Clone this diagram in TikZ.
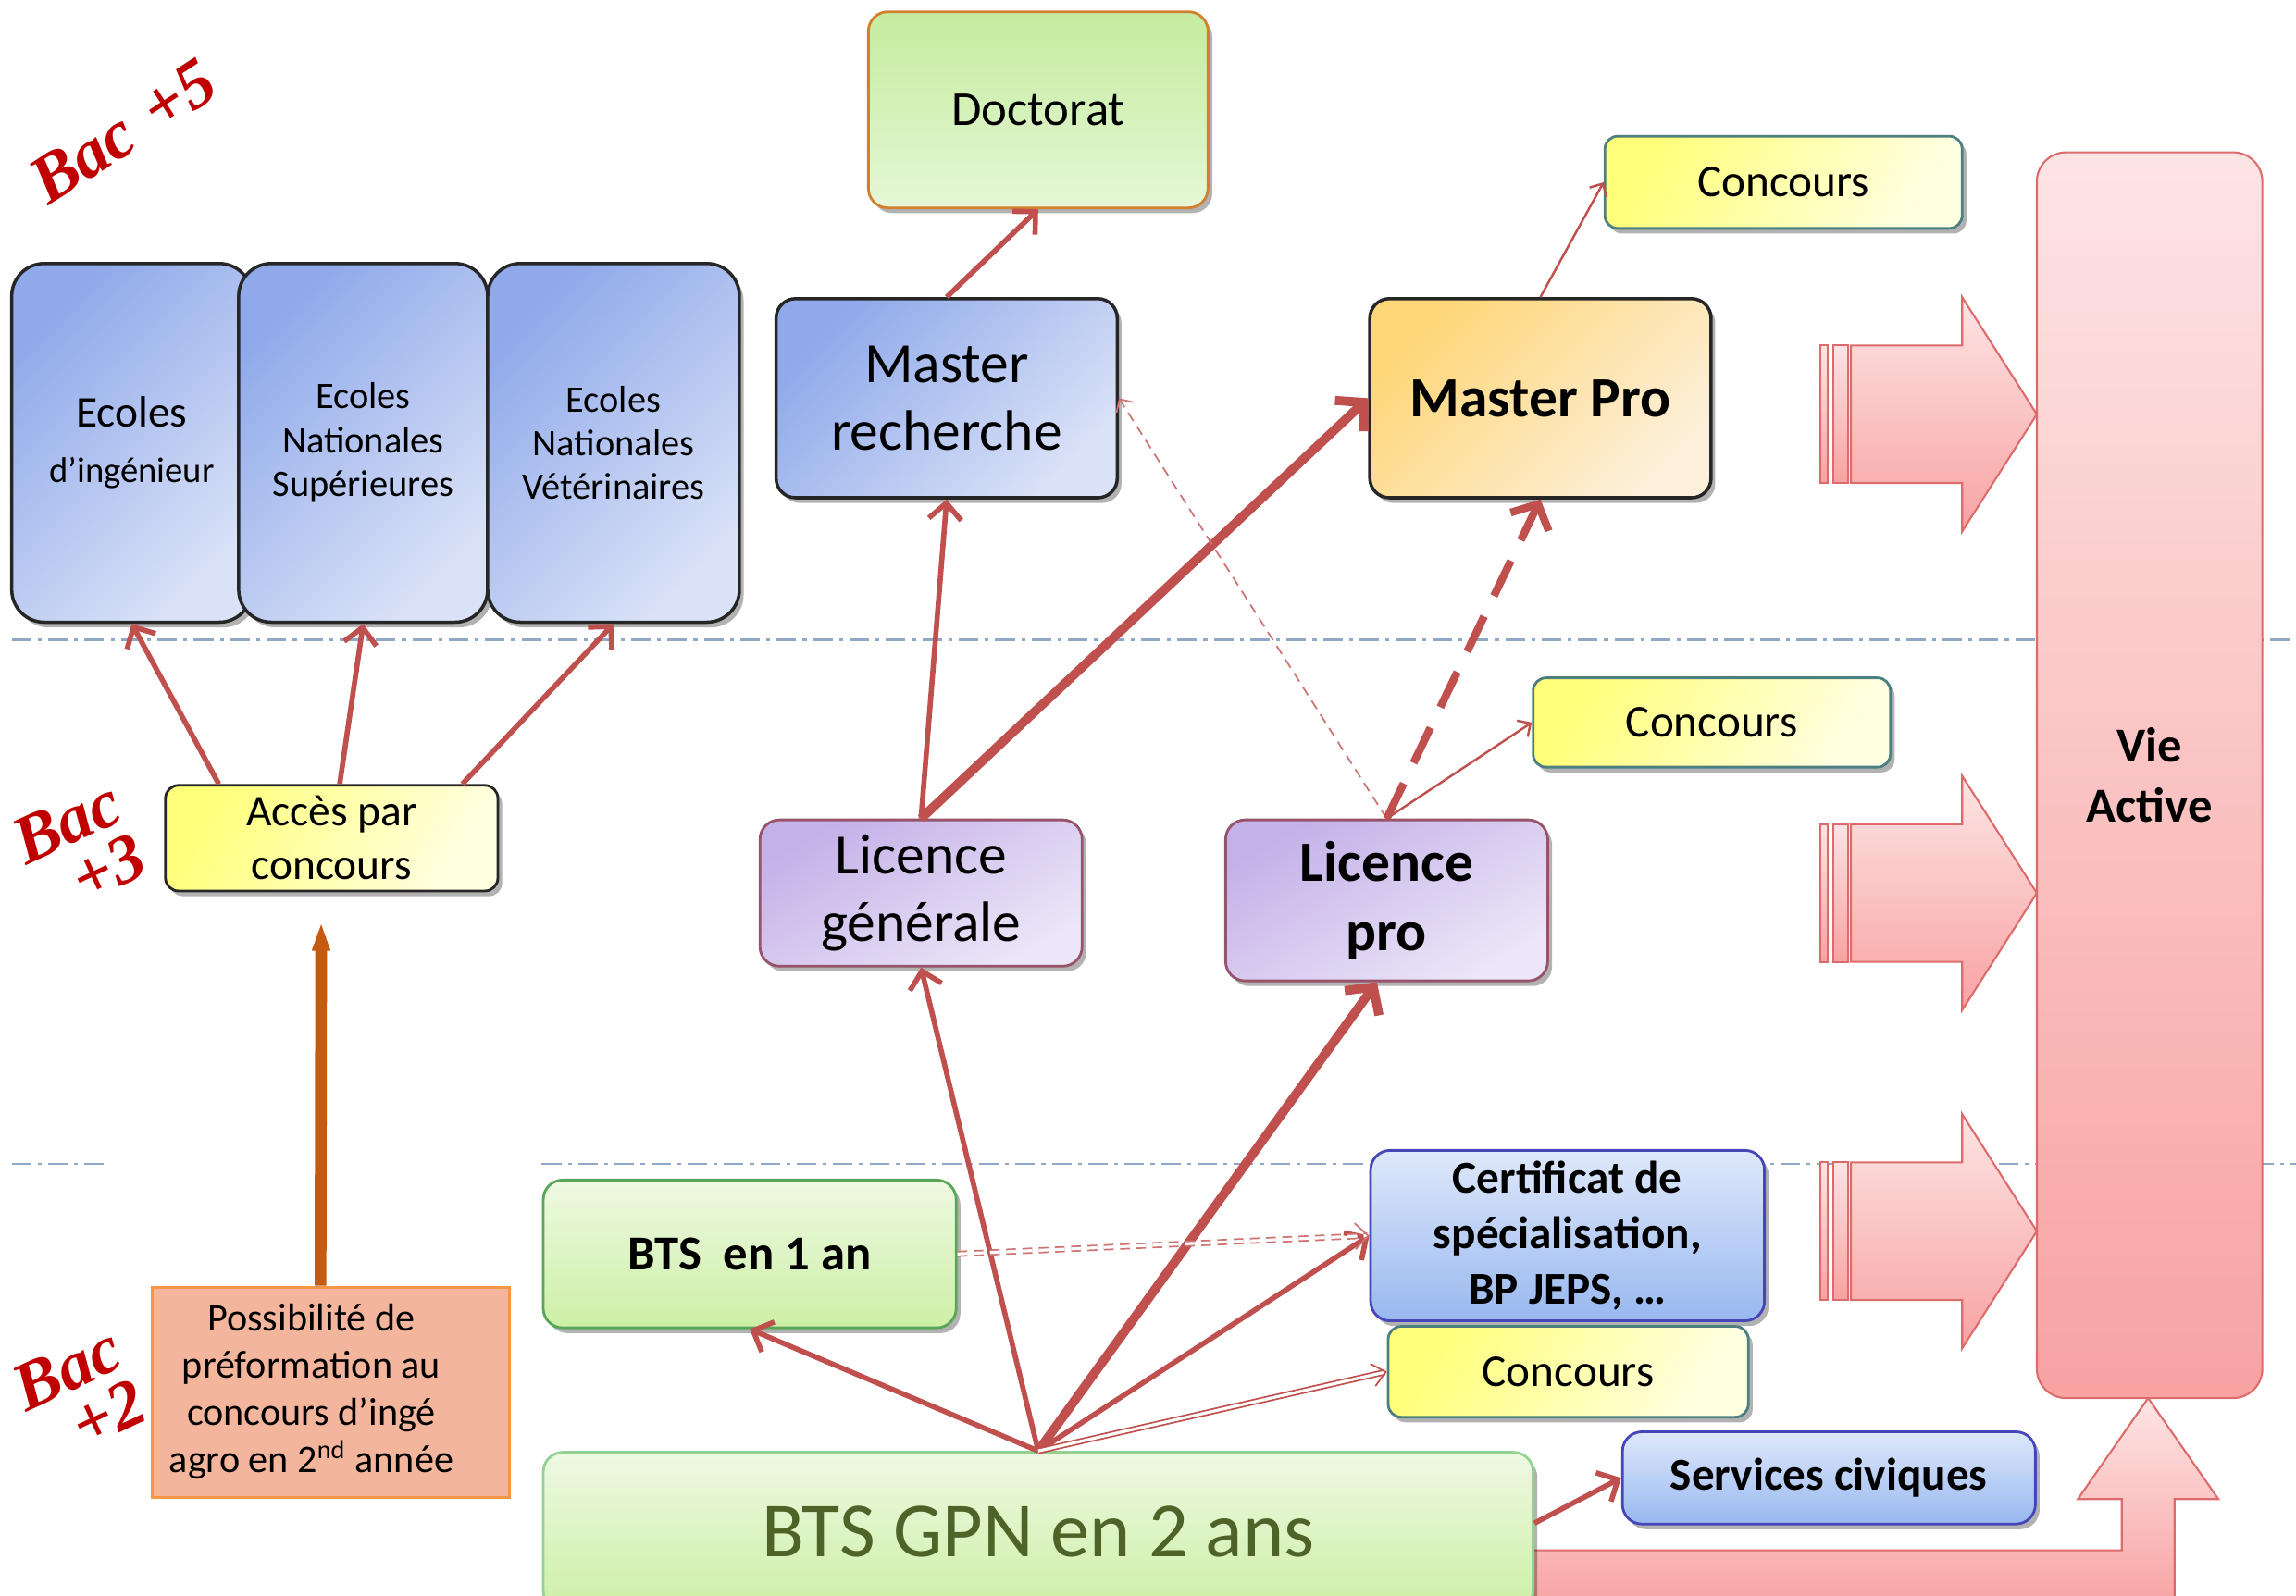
\documentclass[tikz,border=0pt]{standalone}
\usepackage{fontspec}
\setmainfont{Carlito}
\newfontfamily\bacfont{Liberation Serif}
\usepackage{xcolor}
\usepackage{tikz}
\usetikzlibrary{arrows.meta, shadows, calc}

\definecolor{arrred}{HTML}{C0504D}
\definecolor{bacred}{HTML}{C00000}
\definecolor{sepblue}{HTML}{8FA8C8}
\definecolor{bluetl}{HTML}{8FA9EA}
\definecolor{bluebr}{HTML}{DAE2F7}
\definecolor{greentop}{HTML}{C4EC9E}
\definecolor{greenbot}{HTML}{E6F7D6}
\definecolor{btstop}{HTML}{EEF9E2}
\definecolor{btsbot}{HTML}{CDEFA6}
\definecolor{purptl}{HTML}{C4B1E8}
\definecolor{purpbr}{HTML}{ECE6F8}
\definecolor{yelltl}{HTML}{FFFF7A}
\definecolor{yellbr}{HTML}{FFFFE2}
\definecolor{orantl}{HTML}{FFD678}
\definecolor{oranbr}{HTML}{FCF0DA}
\definecolor{certtop}{HTML}{DFE8FB}
\definecolor{certbot}{HTML}{98B8F0}
\definecolor{pinktop}{HTML}{FDE4E4}
\definecolor{pinkbot}{HTML}{F8A2A2}
\definecolor{pinkline}{HTML}{DE6B6B}
\definecolor{possfill}{HTML}{F4B59D}
\definecolor{possline}{HTML}{F79646}
\definecolor{orarrow}{HTML}{C55A11}
\definecolor{btstext}{HTML}{4F6228}

\begin{document}
\begin{tikzpicture}[x=0.015823cm, y=-0.015823cm,
    shadowed/.style={drop shadow={shadow xshift=1.3pt, shadow yshift=-1.6pt, opacity=0.3, fill=black}},
    ecole/.style={rectangle, rounded corners=10pt, draw=black!85, line width=1pt, top color=bluetl, bottom color=bluebr, shading angle=45, minimum width=#1, minimum height=3.877cm, align=center, shadowed},
    greenbox/.style={rectangle, rounded corners=6pt, draw=#1, line width=0.8pt, top color=greentop, bottom color=greenbot, align=center, shadowed},
    btsbox/.style={rectangle, rounded corners=6pt, draw=#1, line width=0.8pt, top color=btstop, bottom color=btsbot, align=center, shadowed},
    bluebox/.style={rectangle, rounded corners=6pt, draw=black!85, line width=1pt, top color=bluetl, bottom color=bluebr, shading angle=45, align=center, shadowed},
    purplebox/.style={rectangle, rounded corners=6pt, draw=purple!35!gray, line width=0.8pt, top color=purptl, bottom color=purpbr, shading angle=30, align=center, shadowed},
    yellowbox/.style={rectangle, rounded corners=4pt, draw=#1, line width=0.8pt, top color=yelltl, bottom color=yellbr, shading angle=60, align=center, shadowed},
    certbox/.style={rectangle, rounded corners=6pt, draw=blue!45!gray, line width=0.8pt, top color=certtop, bottom color=certbot, align=center, shadowed},
    bac/.style={font=\bacfont\fontsize{21}{18}\selectfont\bfseries\itshape, text=bacred, align=right, inner sep=1pt},
    sep/.style={draw=sepblue, line width=0.8pt, dash pattern=on 6pt off 2pt on 1.2pt off 2pt},
    arr/.style={draw=arrred, line width=1.6pt, -{Straight Barb[length=5pt,width=10pt]}},
    thickarr/.style={draw=arrred, line width=2.8pt, -{Straight Barb[length=6pt,width=13pt]}},
    thinarr/.style={draw=arrred, line width=0.7pt, -{Straight Barb[length=3pt,width=6pt]}},
    dotarr/.style={draw=arrred!80, line width=0.5pt, densely dashed, -{Straight Barb[length=3pt,width=6pt]}},
    dasharr/.style={draw=arrred, line width=2.4pt, dash pattern=on 12pt off 7pt, -{Straight Barb[length=6pt,width=13pt]}},
    dblarr/.style={draw=arrred, line width=0.5pt, double=white, double distance=0.9pt, -{Straight Barb[length=4pt,width=7pt]}},
    dbldash/.style={draw=arrred!80, line width=0.5pt, double=white, double distance=0.9pt, densely dashed, -{Straight Barb[length=4pt,width=8pt]}},
    orarr/.style={draw=orarrow, line width=3.6pt, shorten >=9pt, -{Triangle[length=9pt,width=5pt]}},
]
\useasboundingbox (0,0) rectangle (1568,1090);

% Level separators
\draw[sep] (8,437) -- (1568,437);
\draw[sep] (8,795) -- (75,795);
\draw[sep] (370,795) -- (1568,795);

% Block arrows to Vie Active
\foreach \c in {283,610,841} {
  \shade[top color=pinktop, bottom color=pinkbot, draw=pinkline, line width=0.6pt] (1243,\c-47) rectangle (1248,\c+47);
  \shade[top color=pinktop, bottom color=pinkbot, draw=pinkline, line width=0.6pt] (1252,\c-47) rectangle (1262,\c+47);
  \shade[top color=pinktop, bottom color=pinkbot, draw=pinkline, line width=0.6pt]
    (1264,\c-47) -- (1340,\c-47) -- (1340,\c-80) -- (1391,\c) -- (1340,\c+80) -- (1340,\c+47) -- (1264,\c+47) -- cycle;
}
\shade[top color=pinktop, bottom color=pinkbot, draw=pinkline, line width=0.6pt]
  (1040,1059) -- (1449,1059) -- (1449,1024) -- (1419,1024) -- (1467,955) -- (1515,1024) -- (1485,1024) -- (1485,1100) -- (1040,1100) -- cycle;

% Bac +5
\node[bac, rotate=33] (bac5) at (84,90) {Bac\,\,+5};
\node[ecole=2.595cm, font=\fontsize{13.5}{17}\selectfont] (ecIng) at (90,302.5) {Ecoles\\{\fontsize{11}{13}\selectfont d’ingénieur}};
\node[ecole=2.69cm, font=\fontsize{11.5}{13.5}\selectfont] (ecSup) at (248,302.5) {Ecoles\\Nationales\\Supérieures};
\node[ecole=2.72cm, font=\fontsize{11.5}{13.5}\selectfont] (ecVet) at (419,302.5) {Ecoles\\Nationales\\Vétérinaires};
\node[greenbox=brown!70!orange, minimum width=3.67cm, minimum height=2.12cm, font=\fontsize{15}{18}\selectfont] (doct) at (709,75) {Doctorat};
\node[bluebox, minimum width=3.687cm, minimum height=2.152cm, font=\fontsize{17.5}{21}\selectfont] (mrech) at (646.5,272) {Master\\recherche};
\node[rectangle, rounded corners=6pt, draw=black!85, line width=1pt, top color=orantl, bottom color=oranbr, shading angle=45, shadowed, minimum width=3.687cm, minimum height=2.152cm, font=\fontsize{17.5}{21}\selectfont\bfseries] (mpro) at (1052,272) {Master Pro};
\node[yellowbox=gray!60!teal, minimum width=3.861cm, minimum height=0.997cm, font=\fontsize{14}{17}\selectfont] (concA) at (1218,124.5) {Concours};

% Vie active
\node[rectangle, rounded corners=9pt, draw=pinkline, line width=0.6pt, top color=pinktop, bottom color=pinkbot, minimum width=2.437cm, minimum height=13.465cm, align=center, font=\fontsize{15}{18.5}\selectfont\bfseries] (vie) at (1468,529.5) {Vie\\Active};

% Bac +3
\node[bac, rotate=25] (bac3) at (54,580) {Bac\\+3};
\node[yellowbox=black!85, minimum width=3.592cm, minimum height=1.123cm, font=\fontsize{13.5}{16.5}\selectfont] (acces) at (226.5,572.5) {Accès par\\concours};
\node[purplebox, minimum width=3.481cm, minimum height=1.582cm, font=\fontsize{17.5}{21}\selectfont] (lgen) at (629,610) {Licence\\générale};
\node[purplebox, minimum width=3.481cm, minimum height=1.74cm, font=\fontsize{17.5}{21.5}\selectfont\bfseries] (lpro) at (947,615) {Licence\\pro};
\node[yellowbox=gray!60!teal, minimum width=3.861cm, minimum height=0.965cm, font=\fontsize{14}{17}\selectfont] (concB) at (1169,493.5) {Concours};

% Bac +2
\node[bac, rotate=25] (bac2) at (54,953) {Bac\\+2};
\node[btsbox=gray!70!green, minimum width=4.462cm, minimum height=1.598cm, font=\fontsize{15}{18}\selectfont\bfseries] (bts1) at (512,856.5) {BTS\ \ en 1 an};
\node[certbox, minimum width=4.256cm, minimum height=1.551cm, font=\fontsize{14}{17}\selectfont\bfseries] (cert) at (1070.5,844) {Certificat de\\spécialisation,\\BP JEPS, …};
\node[yellowbox=gray!60!teal, minimum width=3.892cm, minimum height=0.981cm, font=\fontsize{14}{17}\selectfont] (concC) at (1071,937) {Concours};
\node[certbox, minimum width=4.462cm, minimum height=0.997cm, font=\fontsize{14}{17}\selectfont\bfseries] (serv) at (1249,1009.5) {Services civiques};
\node[btsbox=green!40!gray!60, minimum width=10.696cm, minimum height=1.709cm, font=\fontsize{24}{28}\selectfont, text=btstext] (btsgpn) at (709,1046) {BTS GPN en 2 ans};
\node[rectangle, draw=possline, line width=0.8pt, fill=possfill, minimum width=3.861cm, minimum height=2.247cm, font=\fontsize{12}{14.5}\selectfont] (poss) at (226,951) {\begin{tabular}{@{}c@{}}Possibilité de\\préformation au\\concours d’ingé\\agro en 2\textsuperscript{nd} année\end{tabular}\hspace*{12pt}};

% Arrows
\draw[arr] ($(acces.north west)!0.163!(acces.north east)$) -- (ecIng.south);
\draw[arr] ($(acces.north west)!0.524!(acces.north east)$) -- (ecSup.south);
\draw[arr] ($(acces.north west)!0.89!(acces.north east)$) -- (ecVet.south);
\draw[arr] (mrech.north) -- (doct.south);
\draw[arr] (lgen.north) -- (mrech.south);
\draw[thickarr] (lgen.north) -- (mpro.west);
\draw[dotarr] (lpro.north) -- (mrech.east);
\draw[dasharr] (lpro.north) -- (mpro.south);
\draw[thinarr] (lpro.north) -- (concB.west);
\draw[thinarr] (mpro.north) -- (concA.west);
\draw[arr] (btsgpn.north) -- (bts1.south);
\draw[arr] (btsgpn.north) -- (lgen.south);
\draw[thickarr] (btsgpn.north) -- ([xshift=-3pt]lpro.south);
\draw[arr] (btsgpn.north) -- (cert.west);
\draw[dblarr] (btsgpn.north) -- (concC.west);
\draw[dbldash] (bts1.east) -- (cert.west);
\draw[arr] ([yshift=2.5pt]btsgpn.east) -- (serv.west);
\draw[orarr] ([xshift=-3.2pt]poss.north) -- ([xshift=-3.2pt]acces.south);

\end{tikzpicture}
\end{document}
